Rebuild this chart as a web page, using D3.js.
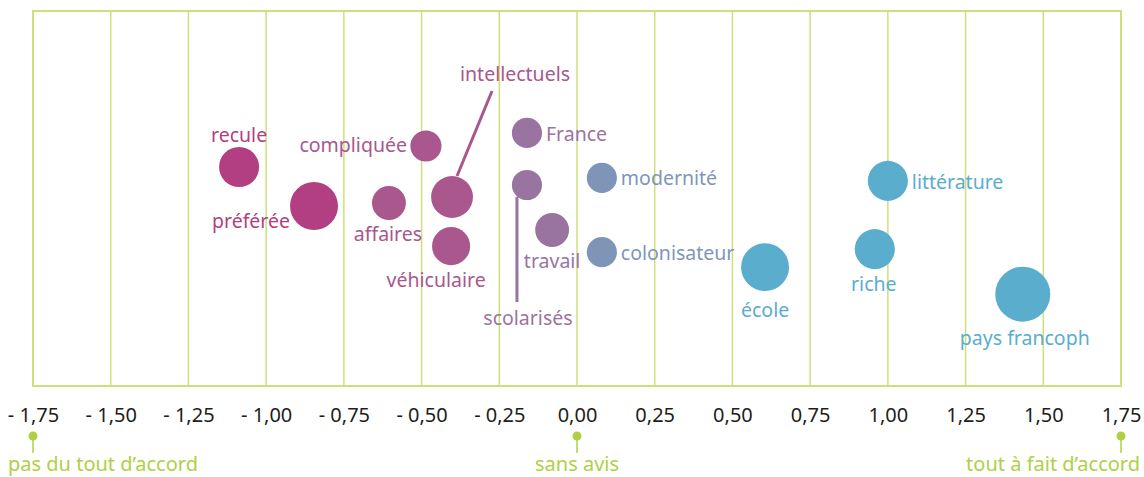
<!DOCTYPE html>
<html>
<head>
<meta charset="utf-8">
<script src="https://cdn.jsdelivr.net/npm/d3@7"></script>
<style>
  body { margin: 0; background: #fff; }
  svg { display: block; font-family: "Noto Sans", sans-serif; }
</style>
</head>
<body>
<svg id="chart" width="1144" height="477"></svg>
<script>
// data
const terms   = ["recule", "préférée", "compliquée", "affaires", "intellectuels", "véhiculaire",
                 "France", "scolarisés", "travail", "modernité", "colonisateur",
                 "école", "riche", "littérature", "pays francoph"];
const scores  = [-1.087, -0.846, -0.486, -0.605, -0.402, -0.405,
                 -0.161, -0.161, -0.08, 0.08, 0.08,
                 0.605, 0.958, 1.0, 1.434];
const heights = [58.4, 48.0, 64.0, 48.8, 50.4, 37.3,
                 67.5, 53.6, 41.6, 55.5, 35.7,
                 31.7, 36.5, 54.7, 24.5];
const sizes   = [53, 76, 32, 38, 58, 48,
                 30, 30, 38, 30, 30,
                 76, 53, 53, 100];
const groups  = [0, 0, 1, 1, 1, 1, 2, 2, 2, 3, 3, 4, 4, 4, 4];
const ticks   = [-1.75, -1.5, -1.25, -1, -0.75, -0.5, -0.25, 0, 0.25, 0.5, 0.75, 1, 1.25, 1.5, 1.75];
const scaleLabels = [[-1.75, "pas du tout d’accord"], [0, "sans avis"], [1.75, "tout à fait d’accord"]];

const palette = ["#b23f81", "#a9578c", "#9a74a0", "#7f95b8", "#5aadcd"];
const green = "#cfe07a", greenText = "#afd046";

// label placement: [dx, dy, anchor], optional leader [x1,y1,x2,y2] relative to bubble centre
const labelPos = {
  "recule":        [0, -32, "middle"],
  "préférée":      [-24, 15, "end"],
  "compliquée":    [-19, -1, "end"],
  "affaires":      [-1, 31, "middle"],
  "intellectuels": [63, -123, "middle", [40, -106, 5, -21]],
  "véhiculaire":   [-15, 34, "middle"],
  "France":        [19, 1, "start"],
  "scolarisés":    [1, 133, "middle", [-10, 12, -10, 117]],
  "travail":       [0, 31, "middle"],
  "modernité":     [19, 0, "start"],
  "colonisateur":  [19, 1, "start"],
  "école":         [0, 43, "middle"],
  "riche":         [-1, 35, "middle"],
  "littérature":   [24, 1, "start"],
  "pays francoph": [2, 44, "middle"]
};

const svg = d3.select("#chart");
const m = {left: 33, right: 1121, top: 11, bottom: 386};

const x = d3.scaleLinear().domain([-1.75, 1.75]).range([m.left, m.right]);
const y = d3.scaleLinear().domain([0, 100]).range([m.bottom, m.top]);
const r = d3.scaleSqrt().domain([0, 100]).range([0, 27.5]);

const fmt = d => (d < 0 ? "- " : "") + Math.abs(d).toFixed(2).replace(".", ",");

// grid
svg.append("g").selectAll("line").data(ticks).join("line")
  .attr("x1", d => x(d)).attr("x2", d => x(d))
  .attr("y1", m.top).attr("y2", m.bottom)
  .attr("stroke", green).attr("stroke-width", 1.5);

svg.append("rect")
  .attr("x", m.left).attr("y", m.top)
  .attr("width", m.right - m.left).attr("height", m.bottom - m.top)
  .attr("fill", "none").attr("stroke", green).attr("stroke-width", 2);

// axis
const axis = svg.append("g")
  .attr("transform", `translate(0,${m.bottom})`)
  .call(d3.axisBottom(x).tickValues(ticks).tickFormat(fmt).tickSize(0).tickPadding(22));
axis.select(".domain").remove();
axis.selectAll("text")
  .attr("font-family", "Noto Sans, sans-serif")
  .attr("font-size", 20).attr("fill", "#1d1d1b");

// scale labels below axis
const sl = svg.append("g").selectAll("g").data(scaleLabels).join("g")
  .attr("transform", d => `translate(${x(d[0])},0)`);
sl.append("line").attr("y1", 436).attr("y2", 453)
  .attr("stroke", greenText).attr("stroke-width", 1.5);
sl.append("circle").attr("cy", 436).attr("r", 4.5).attr("fill", greenText);
sl.append("text")
  .attr("y", 471)
  .attr("x", (d, i) => i === 0 ? -25 : i === 2 ? 19 : 0)
  .attr("text-anchor", (d, i) => ["start", "middle", "end"][i])
  .attr("font-size", 20).attr("fill", greenText)
  .text(d => d[1]);

// bubbles
const pts = terms.map((t, i) => ({
  term: t, score: scores[i], h: heights[i], size: sizes[i], color: palette[groups[i]]
}));

const node = svg.append("g").selectAll("g").data(pts).join("g")
  .attr("transform", d => `translate(${x(d.score)},${y(d.h)})`);

node.filter(d => labelPos[d.term][3]).append("line")
  .attr("x1", d => labelPos[d.term][3][0]).attr("y1", d => labelPos[d.term][3][1])
  .attr("x2", d => labelPos[d.term][3][2]).attr("y2", d => labelPos[d.term][3][3])
  .attr("stroke", d => d.color).attr("stroke-width", 3);

node.append("circle")
  .attr("r", d => r(d.size))
  .attr("fill", d => d.color);

node.append("text")
  .attr("x", d => labelPos[d.term][0])
  .attr("y", d => labelPos[d.term][1])
  .attr("dy", "0.35em")
  .attr("text-anchor", d => labelPos[d.term][2])
  .attr("font-size", 19.5)
  .attr("fill", d => d.color)
  .text(d => d.term);
</script>
</body>
</html>
